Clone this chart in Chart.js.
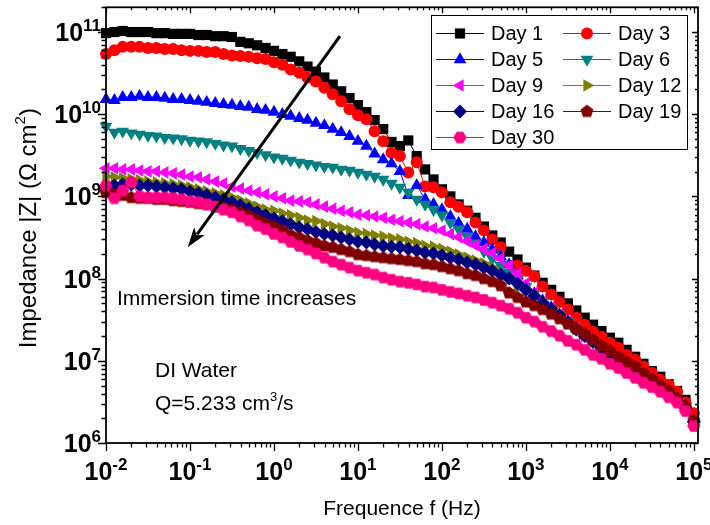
<!DOCTYPE html>
<html>
<head>
<meta charset="utf-8">
<title>Bode |Z| - DI water</title>
<script src="https://cdn.jsdelivr.net/npm/chart.js@4.4.1/dist/chart.umd.min.js"></script>
<style>
  html, body { margin: 0; padding: 0; background: #fff; }
</style>
</head>
<body>
<canvas id="bode" width="710" height="525"></canvas>
<script>
// Frequencies of the EIS sweep (Hz), 10 points per decade
const freq = [
  0.01, 0.0126, 0.0158, 0.02, 0.0251, 0.0316, 0.0398, 0.0501, 0.0631, 0.0794,
  0.1, 0.126, 0.158, 0.2, 0.251, 0.316, 0.398, 0.501, 0.631, 0.794,
  1, 1.26, 1.58, 2, 2.51, 3.16, 3.98, 5.01, 6.31, 7.94,
  10, 12.6, 15.8, 20, 25.1, 31.6, 39.8, 50.1, 63.1, 79.4,
  100, 126, 158, 200, 251, 316, 398, 501, 631, 794,
  1000, 1260, 1580, 2000, 2510, 3160, 3980, 5010, 6310, 7940,
  10000, 12600, 15800, 20000, 25100, 31600, 39800, 50100, 63100, 79400, 100000
];

// |Z| in ohm.cm2, one array per immersion day
const day1 = [
  9.7e10, 1.0e11, 1.03e11, 1.0e11, 1.0e11, 1.0e11, 9.7e10, 9.7e10, 9.5e10, 9.5e10,
  9.5e10, 9.2e10, 9.2e10, 8.9e10, 8.9e10, 8.7e10, 7.6e10, 7.3e10, 6.9e10, 6.4e10,
  5.9e10, 5.4e10, 5.0e10, 4.4e10, 3.8e10, 3.3e10, 2.8e10, 2.3e10, 1.9e10, 1.57e10,
  1.29e10, 1.06e10, 8.5e9, 6.6e9, 4.6e9, 4.1e9, 4.8e9, 3.1e9, 2.13e9, 1.61e9,
  1.22e9, 1.0e9, 8.0e8, 6.7e8, 5.5e8, 4.3e8, 3.35e8, 2.75e8, 2.13e8, 1.71e8,
  1.36e8, 1.09e8, 8.9e7, 7.3e7, 6.0e7, 5.0e7, 4.1e7, 3.35e7, 2.75e7, 2.3e7,
  1.91e7, 1.66e7, 1.36e7, 1.12e7, 9.2e6, 7.5e6, 6.4e6, 5.2e6, 4.3e6, 3.35e6,
  2.2e6
];
const day3 = [
  5.4e10, 6.0e10, 6.6e10, 6.6e10, 6.6e10, 6.4e10, 6.4e10, 6.2e10, 6.2e10, 6.0e10,
  5.9e10, 5.9e10, 5.7e10, 5.7e10, 5.4e10, 5.2e10, 5.1e10, 5.0e10, 4.8e10, 4.7e10,
  4.3e10, 4.0e10, 3.5e10, 3.2e10, 2.8e10, 2.5e10, 2.1e10, 1.75e10, 1.44e10, 1.15e10,
  9.7e9, 8.7e9, 6.2e9, 4.7e9, 3.4e9, 3.1e9, 1.96e9, 2.6e9, 1.32e9, 1.29e9,
  1.12e9, 8.5e8, 7.5e8, 6.4e8, 4.8e8, 3.85e8, 3.0e8, 2.4e8, 1.15e8, 1.44e8,
  1.25e8, 1.06e8, 8.0e7, 6.4e7, 5.2e7, 4.2e7, 3.35e7, 2.75e7, 2.26e7, 1.96e7,
  1.66e7, 1.44e7, 1.18e7, 1.03e7, 8.5e6, 7.1e6, 5.9e6, 5.1e6, 4.2e6, 3.1e6,
  2.3e6
];
const day5 = [
  1.52e10, 1.48e10, 1.61e10, 1.61e10, 1.66e10, 1.61e10, 1.61e10, 1.57e10, 1.52e10, 1.52e10,
  1.48e10, 1.44e10, 1.40e10, 1.36e10, 1.32e10, 1.29e10, 1.25e10, 1.22e10, 1.15e10, 1.12e10,
  1.06e10, 1.0e10, 9.5e9, 8.9e9, 8.5e9, 7.8e9, 7.3e9, 6.6e9, 6.0e9, 5.4e9,
  4.7e9, 4.1e9, 3.3e9, 2.8e9, 2.5e9, 2.02e9, 1.03e9, 1.36e9, 9.2e8, 8.0e8,
  6.9e8, 5.7e8, 4.7e8, 4.0e8, 3.25e8, 2.75e8, 2.26e8, 1.85e8, 1.48e8, 1.09e8,
  8.0e7, 6.6e7, 5.4e7, 4.4e7, 3.6e7, 3.0e7, 2.45e7, 2.02e7, 1.71e7, 1.44e7,
  1.22e7, 1.03e7, 8.7e6, 7.5e6, 6.4e6, 5.5e6, 4.7e6, 4.1e6, 3.4e6, 2.75e6,
  1.80e6
];
const day6 = [
  7.1e9, 6.0e9, 6.2e9, 5.9e9, 5.7e9, 5.5e9, 5.4e9, 5.2e9, 5.1e9, 5.0e9,
  4.8e9, 4.7e9, 4.6e9, 4.4e9, 4.2e9, 4.1e9, 3.8e9, 3.6e9, 3.4e9, 3.2e9,
  3.0e9, 2.9e9, 2.75e9, 2.6e9, 2.5e9, 2.4e9, 2.3e9, 2.26e9, 2.13e9, 2.07e9,
  1.96e9, 1.85e9, 1.75e9, 1.61e9, 1.44e9, 1.29e9, 1.12e9, 9.2e8, 8.0e8, 6.9e8,
  5.9e8, 4.8e8, 4.0e8, 3.25e8, 2.7e8, 2.13e8, 1.75e8, 1.44e8, 1.18e8, 9.7e7,
  8.0e7, 6.6e7, 5.3e7, 4.5e7, 3.7e7, 3.0e7, 2.5e7, 2.05e7, 1.72e7, 1.45e7,
  1.23e7, 1.04e7, 8.8e6, 7.5e6, 6.4e6, 5.5e6, 4.7e6, 4.1e6, 3.4e6, 2.75e6,
  1.85e6
];
const day9 = [
  2.2e9, 2.2e9, 2.13e9, 2.13e9, 2.07e9, 2.02e9, 2.02e9, 1.96e9, 1.91e9, 1.85e9,
  1.75e9, 1.71e9, 1.61e9, 1.52e9, 1.44e9, 1.32e9, 1.25e9, 1.18e9, 1.12e9, 1.06e9,
  1.0e9, 9.5e8, 8.9e8, 8.7e8, 8.5e8, 8.0e8, 7.5e8, 7.1e8, 6.7e8, 6.4e8,
  6.0e8, 5.9e8, 5.7e8, 5.5e8, 5.2e8, 5.0e8, 4.8e8, 4.6e8, 4.3e8, 4.1e8,
  3.85e8, 3.5e8, 3.2e8, 2.85e8, 2.55e8, 2.3e8, 2.05e8, 1.75e8, 1.44e8, 1.15e8,
  8.7e7, 6.7e7, 5.2e7, 4.4e7, 3.6e7, 3.0e7, 2.45e7, 2.0e7, 1.7e7, 1.43e7,
  1.21e7, 1.02e7, 8.7e6, 7.4e6, 6.3e6, 5.4e6, 4.7e6, 4.0e6, 3.4e6, 2.7e6,
  1.82e6
];
const day12 = [
  1.75e9, 1.71e9, 1.66e9, 1.61e9, 1.57e9, 1.52e9, 1.48e9, 1.44e9, 1.40e9, 1.36e9,
  1.29e9, 1.22e9, 1.15e9, 1.09e9, 1.03e9, 9.7e8, 8.9e8, 8.2e8, 7.5e8, 6.9e8,
  6.7e8, 6.2e8, 5.9e8, 5.5e8, 5.1e8, 5.0e8, 4.6e8, 4.3e8, 4.1e8, 3.85e8,
  3.6e8, 3.5e8, 3.35e8, 3.25e8, 3.1e8, 3.0e8, 2.8e8, 2.7e8, 2.5e8, 2.45e8,
  2.3e8, 2.13e8, 1.96e8, 1.80e8, 1.66e8, 1.52e8, 1.36e8, 1.09e8, 6.9e7, 7.8e7,
  7.1e7, 6.2e7, 5.2e7, 4.4e7, 3.6e7, 3.0e7, 2.45e7, 2.02e7, 1.71e7, 1.44e7,
  1.22e7, 1.03e7, 8.7e6, 7.5e6, 6.4e6, 5.5e6, 4.7e6, 4.1e6, 3.4e6, 2.75e6,
  1.85e6
];
const day16 = [
  1.29e9, 1.36e9, 1.40e9, 1.40e9, 1.36e9, 1.36e9, 1.32e9, 1.29e9, 1.25e9, 1.22e9,
  1.15e9, 1.09e9, 1.03e9, 9.7e8, 9.2e8, 8.5e8, 7.8e8, 7.1e8, 6.4e8, 5.9e8,
  5.4e8, 5.0e8, 4.6e8, 4.2e8, 4.0e8, 3.7e8, 3.5e8, 3.35e8, 3.16e8, 3.0e8,
  2.8e8, 2.75e8, 2.6e8, 2.5e8, 2.45e8, 2.4e8, 2.3e8, 2.2e8, 2.07e8, 2.02e8,
  1.91e8, 1.80e8, 1.71e8, 1.57e8, 1.48e8, 1.36e8, 1.25e8, 1.12e8, 1.0e8, 8.7e7,
  7.3e7, 6.2e7, 5.1e7, 4.3e7, 3.6e7, 2.95e7, 2.4e7, 2.0e7, 1.69e7, 1.42e7,
  1.2e7, 1.01e7, 8.6e6, 7.4e6, 6.3e6, 5.4e6, 4.6e6, 4.0e6, 3.3e6, 2.7e6,
  1.8e6
];
const day19 = [
  1.12e9, 1.06e9, 1.03e9, 9.7e8, 9.5e8, 9.5e8, 9.2e8, 9.2e8, 8.9e8, 8.7e8,
  8.5e8, 8.2e8, 8.0e8, 7.5e8, 7.3e8, 6.9e8, 6.4e8, 5.9e8, 5.2e8, 4.7e8,
  4.3e8, 3.85e8, 3.4e8, 3.16e8, 2.9e8, 2.7e8, 2.5e8, 2.4e8, 2.26e8, 2.13e8,
  1.96e8, 1.91e8, 1.85e8, 1.80e8, 1.75e8, 1.71e8, 1.66e8, 1.61e8, 1.52e8, 1.48e8,
  1.40e8, 1.32e8, 1.25e8, 1.15e8, 1.09e8, 1.0e8, 9.2e7, 8.2e7, 6.7e7, 5.9e7,
  5.2e7, 4.7e7, 4.2e7, 3.7e7, 3.25e7, 2.8e7, 2.45e7, 2.13e7, 1.80e7, 1.52e7,
  1.32e7, 1.12e7, 9.7e6, 8.5e6, 7.1e6, 6.0e6, 5.1e6, 4.3e6, 3.5e6, 2.8e6,
  1.85e6
];
const day30 = [
  1.36e9, 9.5e8, 1.18e9, 1.48e9, 1.0e9, 9.7e8, 9.7e8, 9.7e8, 9.5e8, 9.2e8,
  8.7e8, 8.5e8, 8.0e8, 7.5e8, 6.9e8, 6.4e8, 5.7e8, 5.1e8, 4.4e8, 4.0e8,
  3.5e8, 3.16e8, 2.8e8, 2.5e8, 2.26e8, 2.02e8, 1.80e8, 1.61e8, 1.48e8, 1.36e8,
  1.25e8, 1.18e8, 1.12e8, 1.03e8, 9.7e7, 9.2e7, 8.9e7, 8.5e7, 8.0e7, 7.8e7,
  7.3e7, 6.9e7, 6.6e7, 6.2e7, 5.9e7, 5.5e7, 5.1e7, 4.7e7, 4.3e7, 3.85e7,
  3.35e7, 3.0e7, 2.6e7, 2.3e7, 2.02e7, 1.75e7, 1.57e7, 1.36e7, 1.18e7, 1.06e7,
  9.2e6, 8.2e6, 7.1e6, 6.2e6, 5.4e6, 4.8e6, 4.2e6, 3.6e6, 3.1e6, 2.45e6,
  1.61e6
];

const seriesNames = ['Day 1', 'Day 3', 'Day 5', 'Day 6', 'Day 9', 'Day 12', 'Day 16', 'Day 19', 'Day 30'];
const seriesValues = [day1, day3, day5, day6, day9, day12, day16, day19, day30];
const seriesColors = ['#000000', '#FF0000', '#0000FF', '#008080', '#FF00FF', '#808000', '#000080', '#800000', '#FF0080'];

// decade exponents for the tick labels
const xTickExps = [-2, -1, 0, 1, 2, 3, 4, 5];
const yTickExps = [6, 7, 8, 9, 10, 11];

const FONT = "'Liberation Sans', Arial, sans-serif";

// filled regular polygon used as a point style (pentagon / hexagon)
function polygonMarker(sides, r, color, startAngle) {
  const s = Math.ceil(r * 2) + 2;
  const c = document.createElement('canvas');
  c.width = s; c.height = s;
  const g = c.getContext('2d');
  g.fillStyle = color;
  g.beginPath();
  for (let k = 0; k < sides; k++) {
    const a = startAngle + k * 2 * Math.PI / sides;
    g.lineTo(s / 2 + r * Math.cos(a), s / 2 + r * Math.sin(a));
  }
  g.closePath();
  g.fill();
  return c;
}

const markers = [
  { style: 'rect', rot: 0, r: 7.2 },
  { style: 'circle', rot: 0, r: 6 },
  { style: 'triangle', rot: 0, r: 7.3 },
  { style: 'triangle', rot: 180, r: 7.3 },
  { style: 'triangle', rot: 270, r: 7.3 },
  { style: 'triangle', rot: 90, r: 7.3 },
  { style: 'rectRot', rot: 0, r: 7 },
  { style: polygonMarker(5, 6.8, '#800000', -Math.PI / 2), rot: 0, r: 7 },
  { style: polygonMarker(6, 6.6, '#FF0080', 0), rot: 0, r: 7 }
];

const datasets = seriesNames.map((name, i) => ({
  label: name,
  data: freq.map((f, j) => ({ x: f, y: seriesValues[i][j] })),
  borderColor: seriesColors[i],
  backgroundColor: seriesColors[i],
  borderWidth: 1,
  pointStyle: markers[i].style,
  pointRotation: markers[i].rot,
  pointRadius: markers[i].r,
  pointBackgroundColor: seriesColors[i],
  pointBorderColor: seriesColors[i],
  pointBorderWidth: 0,
  tension: 0,
  clip: false,
  order: seriesNames.length - i
}));

// "10" with a raised exponent
function drawPow(ctx, exp, x, y, align) {
  const base = 'bold 25px ' + FONT, sup = 'bold 17px ' + FONT;
  ctx.font = base;
  const w1 = ctx.measureText('10').width;
  ctx.font = sup;
  const w2 = ctx.measureText(String(exp)).width;
  const left = align === 'center' ? x - (w1 + w2) / 2 : x - (w1 + w2);
  ctx.textAlign = 'left';
  ctx.textBaseline = 'alphabetic';
  ctx.font = base;
  ctx.fillText('10', left, y);
  ctx.font = sup;
  ctx.fillText(String(exp), left + w1, y - 10);
}

// text pieces [string, isSuperscript] drawn one after another
function drawRich(ctx, parts, x, y, size, align) {
  const normal = size + 'px ' + FONT, small = Math.round(size * 0.62) + 'px ' + FONT;
  let total = 0;
  parts.forEach(p => { ctx.font = p[1] ? small : normal; total += ctx.measureText(p[0]).width; });
  let cx = align === 'center' ? x - total / 2 : x;
  ctx.textAlign = 'left';
  ctx.textBaseline = 'alphabetic';
  parts.forEach(p => {
    ctx.font = p[1] ? small : normal;
    ctx.fillText(p[0], cx, p[1] ? y - size * 0.45 : y);
    cx += ctx.measureText(p[0]).width;
  });
}

const arrowFrom = { x: 6.1, y: 8.9e10 };
const arrowTo = { x: 0.094, y: 2.4e8 };
const notes = [
  { x: 0.0135, y: 4.8e7, parts: [['Immersion time increases', false]] },
  { x: 0.0383, y: 6.4e6, parts: [['DI Water', false]] },
  { x: 0.0383, y: 2.5e6, parts: [['Q=5.233 cm', false], ['3', true], ['/s', false]] }
];

const decorations = {
  id: 'decorations',
  afterDatasetsDraw(chart) {
    const { ctx, chartArea: a, scales: { x, y } } = chart;
    ctx.save();
    ctx.fillStyle = '#000';
    ctx.strokeStyle = '#000';

    // arrow
    const p0 = { x: x.getPixelForValue(arrowFrom.x), y: y.getPixelForValue(arrowFrom.y) };
    const p1 = { x: x.getPixelForValue(arrowTo.x), y: y.getPixelForValue(arrowTo.y) };
    const ang = Math.atan2(p1.y - p0.y, p1.x - p0.x);
    const headLen = 20, headW = 6.5;
    ctx.lineWidth = 3;
    ctx.beginPath();
    ctx.moveTo(p0.x, p0.y);
    ctx.lineTo(p1.x - Math.cos(ang) * headLen * 0.8, p1.y - Math.sin(ang) * headLen * 0.8);
    ctx.stroke();
    ctx.beginPath();
    ctx.moveTo(p1.x, p1.y);
    ctx.lineTo(p1.x - Math.cos(ang) * headLen - Math.sin(ang) * headW, p1.y - Math.sin(ang) * headLen + Math.cos(ang) * headW);
    ctx.lineTo(p1.x - Math.cos(ang) * headLen * 0.75, p1.y - Math.sin(ang) * headLen * 0.75);
    ctx.lineTo(p1.x - Math.cos(ang) * headLen + Math.sin(ang) * headW, p1.y - Math.sin(ang) * headLen - Math.cos(ang) * headW);
    ctx.closePath();
    ctx.fill();

    // annotations
    notes.forEach(n => drawRich(ctx, n.parts, x.getPixelForValue(n.x), y.getPixelForValue(n.y), 21, 'left'));

    // frame
    ctx.lineWidth = 1.8;
    ctx.strokeRect(a.left, a.top, a.right - a.left, a.bottom - a.top);

    // ticks
    ctx.lineWidth = 1.3;
    ctx.beginPath();
    xTickExps.forEach(e => {
      for (let k = 1; k <= 9; k++) {
        const v = k * Math.pow(10, e);
        if (v < x.min * 0.999 || v > x.max) continue;
        const px = Math.round(x.getPixelForValue(v)) + 0.5;
        const major = k === 1;
        ctx.moveTo(px, a.bottom); ctx.lineTo(px, a.bottom + (major ? 8 : 4.5));
        ctx.moveTo(px, a.top); ctx.lineTo(px, a.top + (major ? 6 : 3));
      }
    });
    yTickExps.forEach(e => {
      for (let k = 1; k <= 9; k++) {
        const v = k * Math.pow(10, e);
        if (v < y.min * 0.999 || v > y.max * 1.001) continue;
        const py = Math.round(y.getPixelForValue(v)) + 0.5;
        const major = k === 1;
        ctx.moveTo(a.left, py); ctx.lineTo(a.left - (major ? 8 : 4.5), py);
        ctx.moveTo(a.right, py); ctx.lineTo(a.right - (major ? 6 : 3), py);
      }
    });
    ctx.stroke();

    // tick labels
    xTickExps.forEach(e => drawPow(ctx, e, x.getPixelForValue(Math.pow(10, e)), a.bottom + 37, 'center'));
    yTickExps.forEach(e => drawPow(ctx, e, a.left - 5, y.getPixelForValue(Math.pow(10, e)) + 9, 'right'));

    // axis titles
    drawRich(ctx, [['Frequence f (Hz)', false]], (a.left + a.right) / 2, 515, 21, 'center');
    ctx.save();
    ctx.translate(36, (a.top + a.bottom) / 2 + 3);
    ctx.rotate(-Math.PI / 2);
    drawRich(ctx, [['Impedance |Z| (\u03A9 cm', false], ['2', true], [')', false]], 0, 0, 24, 'center');
    ctx.restore();

    // legend
    const box = { l: 431, t: 15, r: 687, b: 149 };
    ctx.fillStyle = '#fff';
    ctx.fillRect(box.l, box.t, box.r - box.l, box.b - box.t);
    ctx.lineWidth = 1;
    ctx.strokeStyle = '#000';
    ctx.strokeRect(box.l + 0.5, box.t + 0.5, box.r - box.l, box.b - box.t);
    const cols = [436, 563], lineLen = 48, textGap = 7, row0 = 33, rowStep = 26;
    seriesNames.forEach((name, i) => {
      const cx = cols[i % 2], cy = row0 + Math.floor(i / 2) * rowStep;
      ctx.strokeStyle = seriesColors[i];
      ctx.lineWidth = 1;
      ctx.beginPath();
      ctx.moveTo(cx, cy + 0.5); ctx.lineTo(cx + lineLen, cy + 0.5);
      ctx.stroke();
      ctx.fillStyle = seriesColors[i];
      ctx.beginPath();
      Chart.helpers.drawPoint(ctx, {
        pointStyle: markers[i].style, rotation: markers[i].rot,
        radius: markers[i].r, borderWidth: 0
      }, cx + lineLen / 2, cy + 0.5);
      ctx.fillStyle = '#000';
      ctx.font = '20px ' + FONT;
      ctx.textAlign = 'left';
      ctx.textBaseline = 'middle';
      ctx.fillText(name, cx + lineLen + textGap, cy + 1);
    });
    ctx.restore();
  }
};

new Chart(document.getElementById('bode'), {
  type: 'line',
  data: { datasets },
  options: {
    responsive: false,
    animation: false,
    layout: { padding: { left: 106, right: 12, top: 7, bottom: 82 } },
    plugins: { legend: { display: false }, tooltip: { enabled: false } },
    scales: {
      x: { type: 'logarithmic', min: 0.01, max: 1.12e5, display: false },
      y: { type: 'logarithmic', min: 1e6, max: 2e11, display: false }
    }
  },
  plugins: [decorations]
});
</script>
</body>
</html>
